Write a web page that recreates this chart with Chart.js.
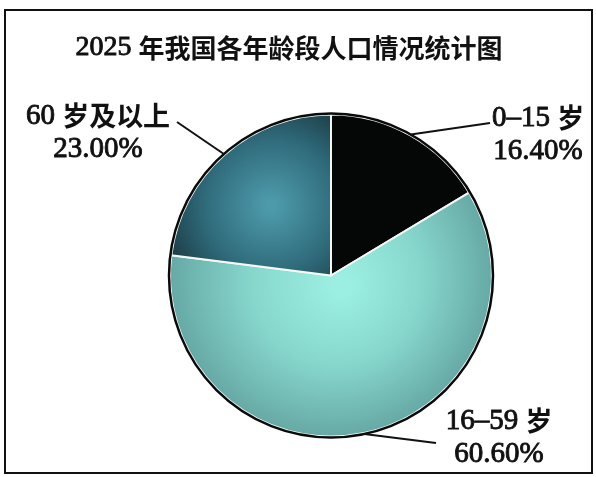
<!DOCTYPE html>
<html>
<head>
<meta charset="utf-8">
<script src="https://cdn.jsdelivr.net/npm/chart.js@4.4.0/dist/chart.umd.min.js"></script>
<style>
  html, body { margin: 0; padding: 0; background: #fff; }
  #wrap { width: 596px; height: 477px; }
</style>
</head>
<body>
<div id="wrap"><canvas id="myChart" width="596" height="477"></canvas></div>
<script>
const chartTitle = '2025 年我国各年龄段人口情况统计图';
const categories = ['0–15 岁', '16–59 岁', '60 岁及以上'];
const shares = [16.40, 60.60, 23.00];

// where each label sits (text centre of first line, and end of leader line)
const labelSpots = [
    { x: 538, y: 118, lineX: 490, lineY: 123 },
    { x: 499, y: 421, lineX: 436, lineY: 443 },
    { x: 98,  y: 116, lineX: 177, lineY: 122 }
];

const LATIN = "'Liberation Serif', serif";
const CJK = "'Noto Sans CJK SC', sans-serif";

// digits in a serif face, chinese in bold - drawn run by run, centred on x
function drawMixed(ctx, text, x, y, size, cjkSize) {
    const runs = [];
    for (const ch of text) {
        const isCjk = /[\u3400-\u9fff]/.test(ch);
        const last = runs[runs.length - 1];
        if (last && last.cjk === isCjk) last.s += ch;
        else runs.push({ cjk: isCjk, s: ch });
    }
    let total = 0;
    runs.forEach(r => {
        ctx.font = r.cjk ? `bold ${cjkSize}px ${CJK}` : `${size}px ${LATIN}`;
        r.w = ctx.measureText(r.s).width;
        total += r.w;
    });
    let cur = x - total / 2;
    ctx.textAlign = 'left';
    ctx.lineWidth = 0.9;
    ctx.strokeStyle = ctx.fillStyle;
    runs.forEach(r => {
        ctx.font = r.cjk ? `bold ${cjkSize}px ${CJK}` : `${size}px ${LATIN}`;
        ctx.fillText(r.s, cur, y);
        if (!r.cjk) ctx.strokeText(r.s, cur, y);
        cur += r.w;
    });
}

function sliceFill(context) {
    const chart = context.chart;
    const area = chart.chartArea;
    if (!area) return '#000';
    const ctx = chart.ctx;
    const cx = (area.left + area.right) / 2;
    const cy = (area.top + area.bottom) / 2;
    const r = Math.min(area.right - area.left, area.bottom - area.top) / 2;
    const i = context.dataIndex;
    if (i === 0) return '#050606';
    if (i === 1) {
        const g = ctx.createRadialGradient(cx + 10, cy + 10, 10, cx, cy, r);
        g.addColorStop(0, '#9beee2');
        g.addColorStop(0.5, '#86d6cc');
        g.addColorStop(1, '#66a8a5');
        return g;
    }
    const g = ctx.createRadialGradient(cx - 60, cy - 70, 5, cx - 60, cy - 70, r * 0.8);
    g.addColorStop(0, '#4d9aab');
    g.addColorStop(0.5, '#2f6a7a');
    g.addColorStop(1, '#142a30');
    return g;
}

const decorations = {
    id: 'decorations',
    beforeDraw(chart) {
        const ctx = chart.ctx;
        ctx.save();
        ctx.fillStyle = '#fff';
        ctx.fillRect(0, 0, chart.width, chart.height);
        ctx.strokeStyle = '#111';
        ctx.lineWidth = 2;
        ctx.strokeRect(5, 10, chart.width - 9, chart.height - 14);
        ctx.restore();
    },
    afterDatasetsDraw(chart) {
        const ctx = chart.ctx;
        const meta = chart.getDatasetMeta(0);
        const first = meta.data[0];
        ctx.save();
        // outer black rim
        ctx.beginPath();
        ctx.arc(first.x, first.y, first.outerRadius + 1, 0, Math.PI * 2);
        ctx.strokeStyle = '#0a0a0a';
        ctx.lineWidth = 2.5;
        ctx.stroke();

        // title
        ctx.fillStyle = '#111';
        ctx.textBaseline = 'middle';
        drawMixed(ctx, chartTitle, 289, 48, 28, 26);

        // labels with leader lines
        meta.data.forEach((arc, i) => {
            const mid = (arc.startAngle + arc.endAngle) / 2;
            const sx = arc.x + Math.cos(mid) * (arc.outerRadius + 1);
            const sy = arc.y + Math.sin(mid) * (arc.outerRadius + 1);
            const spot = labelSpots[i];
            ctx.beginPath();
            ctx.moveTo(sx, sy);
            ctx.lineTo(spot.lineX, spot.lineY);
            ctx.strokeStyle = '#111';
            ctx.lineWidth = 2;
            ctx.stroke();
            drawMixed(ctx, categories[i], spot.x, spot.y, 29, 27);
            drawMixed(ctx, shares[i].toFixed(2) + '%', spot.x, spot.y + 33, 29, 27);
        });
        ctx.restore();
    }
};

const chart = new Chart(document.getElementById('myChart').getContext('2d'), {
    type: 'pie',
    data: {
        labels: categories,
        datasets: [{
            data: shares,
            backgroundColor: sliceFill,
            borderColor: '#f4f8f4',
            borderWidth: 2
        }]
    },
    options: {
        responsive: false,
        animation: false,
        layout: { padding: { left: 169, right: 103, top: 113, bottom: 39 } },
        plugins: {
            legend: { display: false },
            title: { display: false },
            tooltip: { enabled: false }
        }
    },
    plugins: [decorations]
});
</script>
</body>
</html>
